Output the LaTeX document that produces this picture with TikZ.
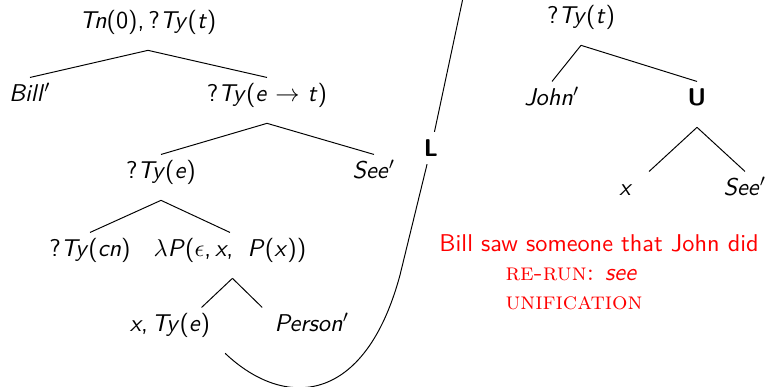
\documentclass[tikz,border=0pt]{standalone}
\usepackage{tikz}
\tikzset{
  tn/.style={font=\sffamily, text height=9.5pt, text depth=9pt, inner sep=0pt, anchor=base},
  lbl/.style={font=\sffamily\bfseries, inner sep=3pt},
  note/.style={font=\sffamily, text=red, anchor=base west, inner sep=0pt}
}
\newcommand{\qty}[1]{?\textit{Ty}(#1)}

\begin{document}
\begin{tikzpicture}[x=0.412pt,y=-0.412pt]
  \clip (0,0) rectangle (766,386);

  % left tree
  \node[tn] (root) at (148,28) {\textit{Tn}(0),\,\qty{\textit{t}}};
  \node[tn] (bill) at (30,101) {\textit{Bill}$'$};
  \node[tn] (et) at (267,101) {\qty{\textit{e} $\rightarrow$ \textit{t}}};
  \node[tn] (tye) at (161,178) {\qty{\textit{e}}};
  \node[tn] (see) at (374,178) {\textit{See}$'$};
  \node[tn] (tycn) at (90,256) {\qty{\textit{cn}}};
  \node[tn] (lam) at (230,256) {$\lambda$\textit{P}($\epsilon$,\,\textit{x},\hspace{6pt}\textit{P}(\textit{x}))};
  \node[tn] (xty) at (170,331) {\textit{x},\,\textit{Ty}(\textit{e})};
  \node[tn] (person) at (312,331) {\textit{Person}$'$};

  \draw (root.south) -- (bill.north);
  \draw (root.south) -- (et.north);
  \draw (et.south) -- (tye.north);
  \draw (et.south) -- (see.north);
  \draw (tye.south) -- (tycn.north);
  \draw (tye.south) -- (lam.north);
  \draw ([xshift=1pt]lam.south) -- ([xshift=13pt]xty.north);
  \draw ([xshift=1pt]lam.south) -- ([xshift=-20.5pt]person.north);

  % right tree
  \node[tn] (tyt) at (581,23) {\qty{\textit{t}}};
  \node[tn] (john) at (552,105) {\textit{John}$'$};
  \node[tn, font=\sffamily\bfseries] (unif) at (697,105) {U};
  \node[tn] (xvar) at (626,195) {\textit{x}};
  \node[tn] (see2) at (745,195) {\textit{See}$'$};

  \draw (tyt.south) -- (john.north);
  \draw (tyt.south) -- (unif.north);
  \draw (unif.south) -- ([xshift=9.5pt]xvar.north);
  \draw (unif.south) -- (see2.north);

  % link
  \node[lbl] (lnk) at (431,148) {L};
  \coordinate (ltop) at (470,-35);
  \draw ([xshift=6pt]xty.south east) .. controls (285,410) and (365,405) .. (400,275) -- (lnk) -- (ltop);

  % notes
  \node[note] (sent) at (439,251) {Bill saw someone that John did};
  \node[note] (rerun) at (505,280) {\textrm{\textsc{re-run:}} \textit{see}};
  \node[note] (unifn) at (505,309) {\textrm{\textsc{unification}}};
\end{tikzpicture}
\end{document}
